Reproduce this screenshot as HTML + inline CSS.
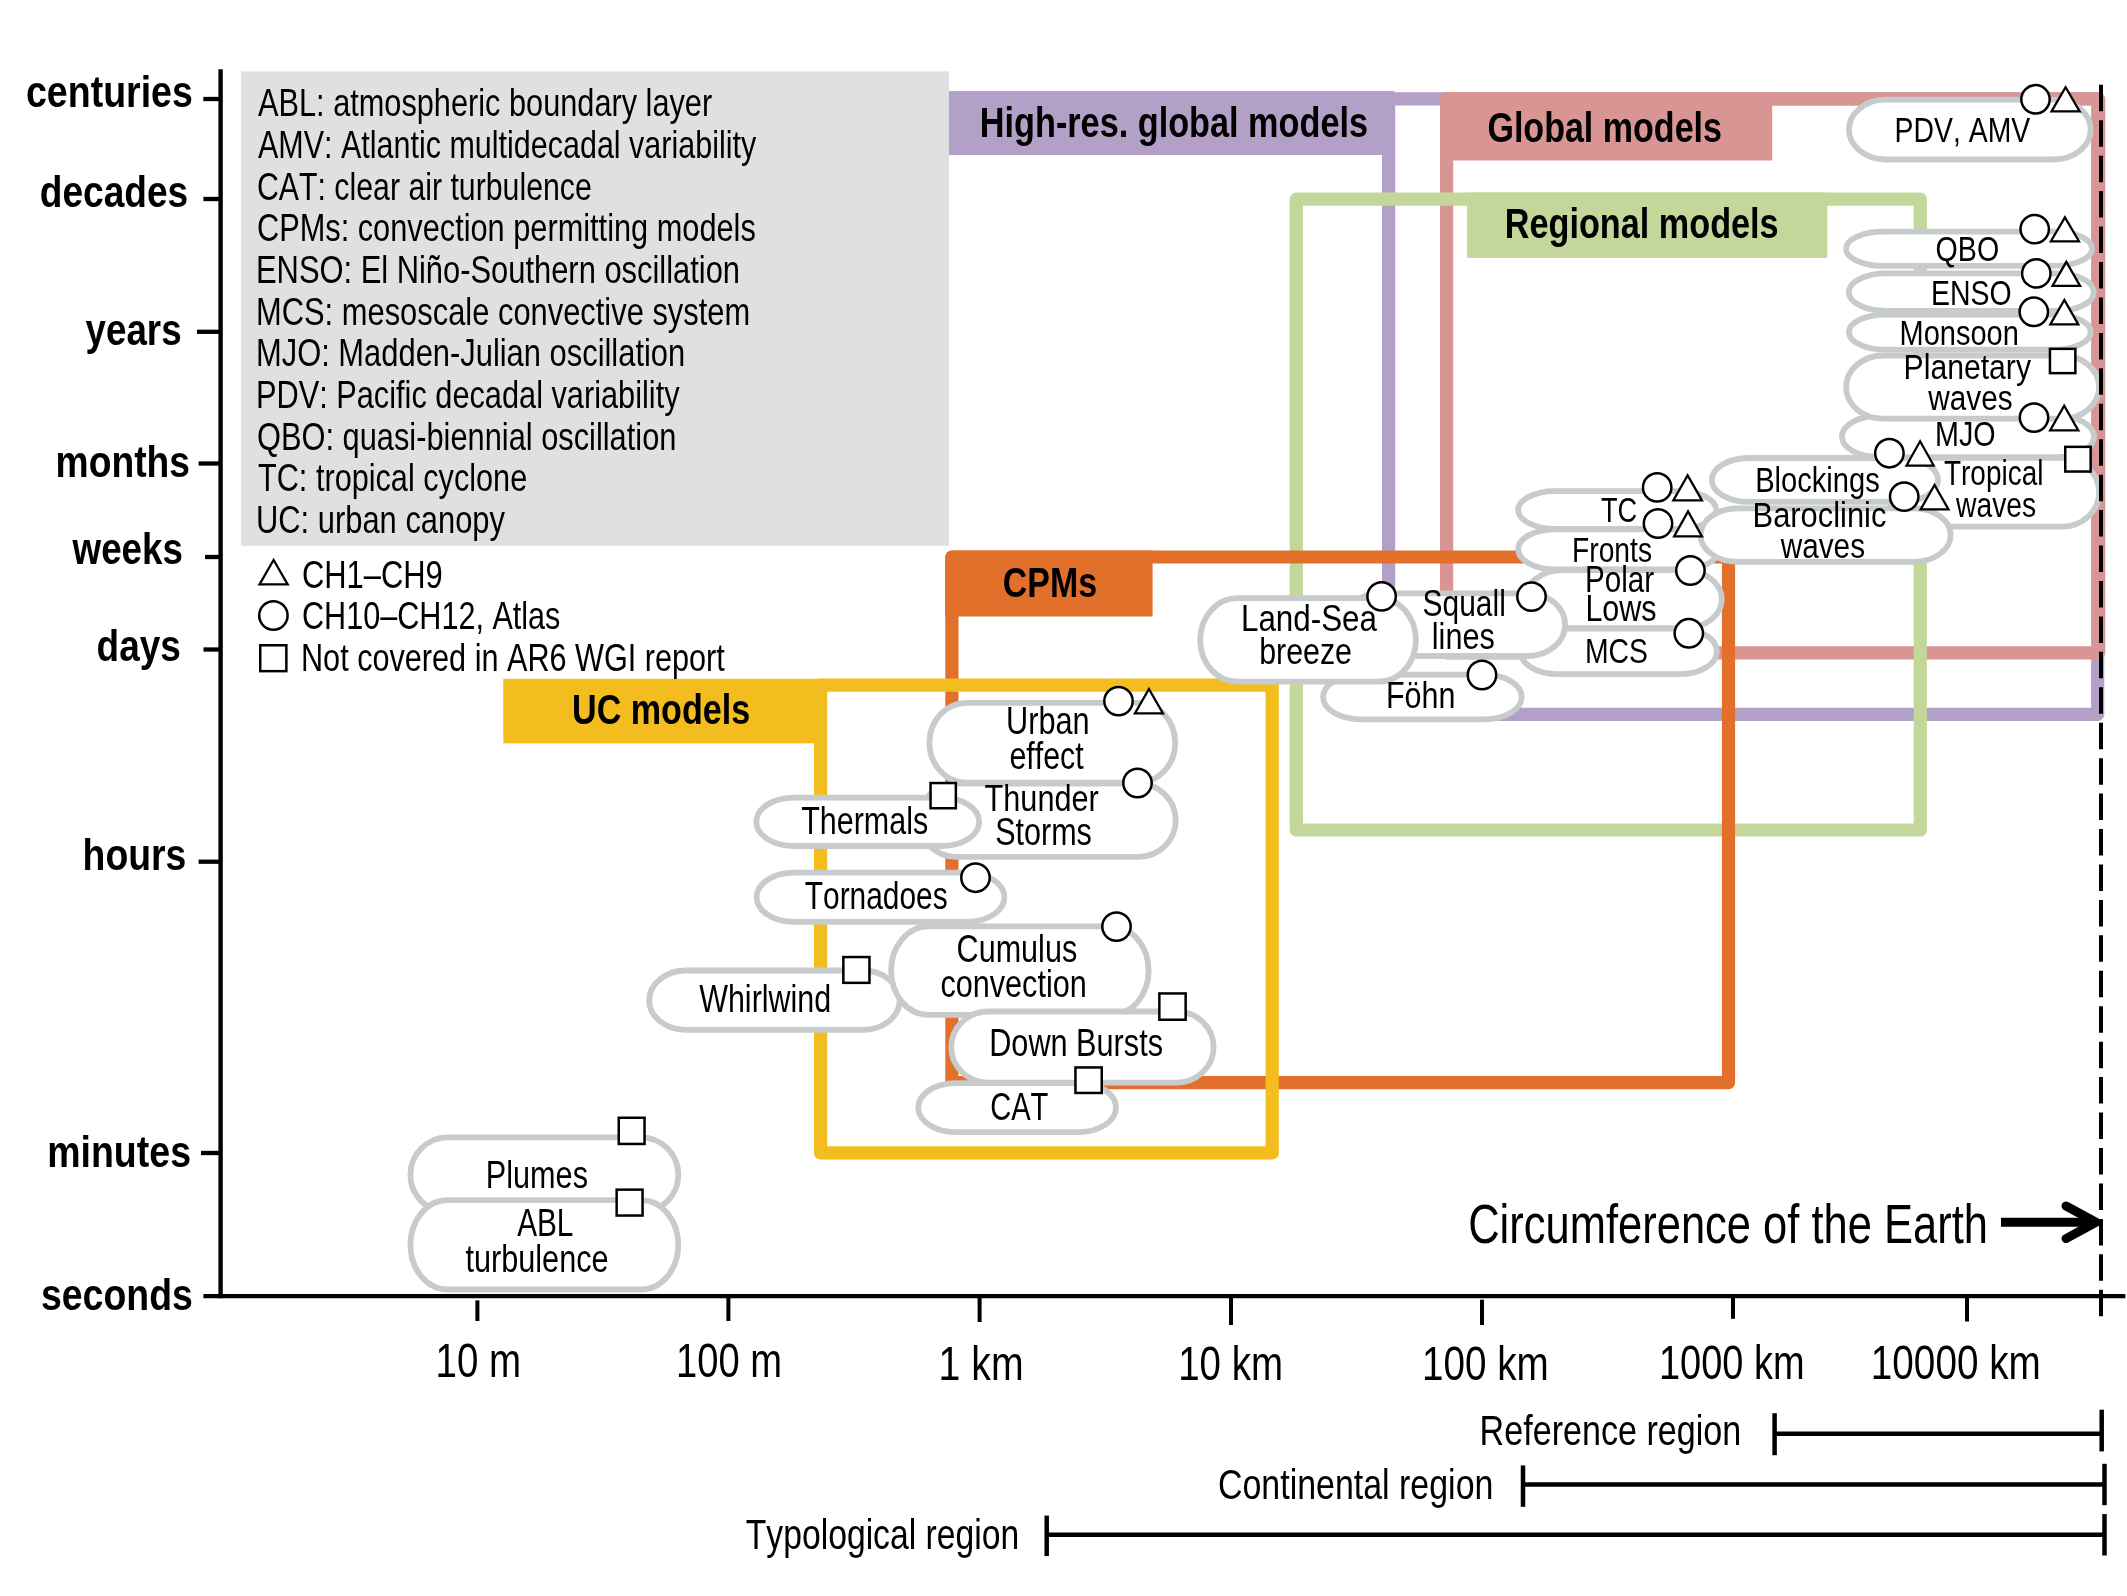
<!DOCTYPE html>
<html><head><meta charset="utf-8"><style>
html,body{margin:0;padding:0;background:#fff;}
svg{display:block;will-change:transform;}
text{font-family:"Liberation Sans",sans-serif;font-kerning:none;}
</style></head><body>
<svg width="2127" height="1596" viewBox="0 0 2127 1596">
<rect width="2127" height="1596" fill="#fff"/>
<rect x="241" y="71.4" width="708" height="474.4" fill="#dfe0e2"/>
<rect x="1388.60" y="98.90" width="709.10" height="615.50" fill="none" stroke="#b2a0c6" stroke-width="13.2" stroke-linejoin="round"/>
<rect x="949" y="91.1" width="445.40" height="63.90" fill="#b2a0c6"/>
<rect x="1446.60" y="98.90" width="652.10" height="553.90" fill="none" stroke="#d99593" stroke-width="13.2" stroke-linejoin="round"/>
<path d="M1440,98.89999999999999 A6.6,6.6 0 0 1 1446.6,92.3 L1772.2,92.3 L1772.2,160.6 L1440,160.6 Z" fill="#d99593"/>
<rect x="1296.30" y="199.20" width="624.00" height="630.80" fill="none" stroke="#c4d79b" stroke-width="13.2" stroke-linejoin="round"/>
<rect x="1467.1" y="192.6" width="360.20" height="65.30" fill="#c4d79b"/>
<rect x="951.90" y="557.00" width="776.60" height="525.70" fill="none" stroke="#e2702b" stroke-width="13.2" stroke-linejoin="round"/>
<path d="M945.3,557.0 A6.6,6.6 0 0 1 951.9,550.4 L1152.6,550.4 L1152.6,616.5 L945.3,616.5 Z" fill="#e2702b"/>
<rect x="820.60" y="685.10" width="451.60" height="467.80" fill="none" stroke="#f3bd1f" stroke-width="13.2" stroke-linejoin="round"/>
<rect x="503.3" y="678.8" width="323.70" height="64.50" fill="#f3bd1f"/>
<rect x="1848.90" y="99.70" width="241.80" height="59.80" rx="37.10" ry="29.90" fill="#fff" stroke="#c7cbcb" stroke-width="5.8"/>
<rect x="1846.10" y="231.60" width="246.00" height="34.20" rx="37.10" ry="17.10" fill="#fff" stroke="#c7cbcb" stroke-width="5.8"/>
<rect x="1848.90" y="273.40" width="244.90" height="37.50" rx="37.10" ry="18.75" fill="#fff" stroke="#c7cbcb" stroke-width="5.8"/>
<rect x="1848.90" y="314.60" width="241.80" height="35.10" rx="37.10" ry="17.55" fill="#fff" stroke="#c7cbcb" stroke-width="5.8"/>
<rect x="1841.90" y="415.90" width="252.20" height="41.20" rx="37.10" ry="20.60" fill="#fff" stroke="#c7cbcb" stroke-width="5.8"/>
<rect x="1846.10" y="355.50" width="253.00" height="63.20" rx="37.10" ry="31.60" fill="#fff" stroke="#c7cbcb" stroke-width="5.8"/>
<rect x="1887.90" y="457.90" width="211.20" height="68.70" rx="37.10" ry="34.35" fill="#fff" stroke="#c7cbcb" stroke-width="5.8"/>
<rect x="1711.80" y="458.00" width="226.30" height="43.90" rx="37.10" ry="21.95" fill="#fff" stroke="#c7cbcb" stroke-width="5.8"/>
<rect x="1518.20" y="491.10" width="198.10" height="37.70" rx="37.10" ry="18.85" fill="#fff" stroke="#c7cbcb" stroke-width="5.8"/>
<rect x="1518.20" y="529.30" width="200.90" height="40.10" rx="37.10" ry="20.05" fill="#fff" stroke="#c7cbcb" stroke-width="5.8"/>
<rect x="1700.50" y="508.40" width="250.20" height="53.40" rx="37.10" ry="26.70" fill="#fff" stroke="#c7cbcb" stroke-width="5.8"/>
<rect x="1524.90" y="570.20" width="196.90" height="58.00" rx="37.10" ry="29.00" fill="#fff" stroke="#c7cbcb" stroke-width="5.8"/>
<rect x="1520.50" y="628.70" width="196.40" height="45.40" rx="37.10" ry="22.70" fill="#fff" stroke="#c7cbcb" stroke-width="5.8"/>
<rect x="1323.10" y="674.70" width="198.60" height="44.60" rx="37.10" ry="22.30" fill="#fff" stroke="#c7cbcb" stroke-width="5.8"/>
<rect x="1342.90" y="593.40" width="222.20" height="62.60" rx="37.10" ry="31.30" fill="#fff" stroke="#c7cbcb" stroke-width="5.8"/>
<rect x="1200.20" y="598.20" width="215.70" height="83.50" rx="37.10" ry="41.75" fill="#fff" stroke="#c7cbcb" stroke-width="5.8"/>
<rect x="918.90" y="783.70" width="256.80" height="73.20" rx="37.10" ry="36.60" fill="#fff" stroke="#c7cbcb" stroke-width="5.8"/>
<rect x="929.40" y="702.90" width="245.80" height="79.70" rx="37.10" ry="39.85" fill="#fff" stroke="#c7cbcb" stroke-width="5.8"/>
<rect x="756.30" y="797.70" width="222.90" height="48.30" rx="37.10" ry="24.15" fill="#fff" stroke="#c7cbcb" stroke-width="5.8"/>
<rect x="756.60" y="872.60" width="247.80" height="49.30" rx="37.10" ry="24.65" fill="#fff" stroke="#c7cbcb" stroke-width="5.8"/>
<rect x="649.20" y="970.50" width="250.50" height="59.40" rx="37.10" ry="29.70" fill="#fff" stroke="#c7cbcb" stroke-width="5.8"/>
<rect x="891.10" y="926.40" width="257.50" height="88.40" rx="37.10" ry="44.20" fill="#fff" stroke="#c7cbcb" stroke-width="5.8"/>
<rect x="951.20" y="1011.50" width="262.40" height="71.20" rx="37.10" ry="35.60" fill="#fff" stroke="#c7cbcb" stroke-width="5.8"/>
<rect x="918.30" y="1083.10" width="197.70" height="49.00" rx="37.10" ry="24.50" fill="#fff" stroke="#c7cbcb" stroke-width="5.8"/>
<rect x="410.40" y="1137.40" width="267.90" height="74.70" rx="37.10" ry="37.35" fill="#fff" stroke="#c7cbcb" stroke-width="5.8"/>
<rect x="410.40" y="1200.20" width="267.90" height="89.30" rx="37.10" ry="44.65" fill="#fff" stroke="#c7cbcb" stroke-width="5.8"/>
<line x1="2101" y1="84.8" x2="2101" y2="1316.3" stroke="#000" stroke-width="4" stroke-dasharray="26.5 8.94"/>
<circle cx="2035.5" cy="99.3" r="14.2" fill="#fff" stroke="#000" stroke-width="2.5"/>
<circle cx="2034.7" cy="229.1" r="14.2" fill="#fff" stroke="#000" stroke-width="2.5"/>
<circle cx="2036.3" cy="273.4" r="14.2" fill="#fff" stroke="#000" stroke-width="2.5"/>
<circle cx="2033.8" cy="311.8" r="14.2" fill="#fff" stroke="#000" stroke-width="2.5"/>
<circle cx="2034" cy="417.6" r="14.2" fill="#fff" stroke="#000" stroke-width="2.5"/>
<circle cx="1889.4" cy="453.2" r="14.2" fill="#fff" stroke="#000" stroke-width="2.5"/>
<circle cx="1904.2" cy="496.6" r="14.2" fill="#fff" stroke="#000" stroke-width="2.5"/>
<circle cx="1657.2" cy="487.4" r="14.2" fill="#fff" stroke="#000" stroke-width="2.5"/>
<circle cx="1658" cy="523.5" r="14.2" fill="#fff" stroke="#000" stroke-width="2.5"/>
<circle cx="1690.4" cy="570.5" r="14.2" fill="#fff" stroke="#000" stroke-width="2.5"/>
<circle cx="1688.8" cy="633.3" r="14.2" fill="#fff" stroke="#000" stroke-width="2.5"/>
<circle cx="1531.5" cy="596.6" r="14.2" fill="#fff" stroke="#000" stroke-width="2.5"/>
<circle cx="1381.6" cy="596.4" r="14.2" fill="#fff" stroke="#000" stroke-width="2.5"/>
<circle cx="1482" cy="675" r="14.2" fill="#fff" stroke="#000" stroke-width="2.5"/>
<circle cx="1118.5" cy="701.1" r="14.2" fill="#fff" stroke="#000" stroke-width="2.5"/>
<circle cx="1137.5" cy="783" r="14.2" fill="#fff" stroke="#000" stroke-width="2.5"/>
<circle cx="975.5" cy="877.7" r="14.2" fill="#fff" stroke="#000" stroke-width="2.5"/>
<circle cx="1116.5" cy="926.6" r="14.2" fill="#fff" stroke="#000" stroke-width="2.5"/>
<circle cx="273.4" cy="615.5" r="14.2" fill="#fff" stroke="#000" stroke-width="2.5"/>
<path d="M2065.60,87.23 L2079.69,111.47 L2051.51,111.47 Z" fill="#fff" stroke="#000" stroke-width="2.25" stroke-linejoin="miter"/>
<path d="M2064.95,217.33 L2078.99,241.28 L2050.91,241.28 Z" fill="#fff" stroke="#000" stroke-width="2.25" stroke-linejoin="miter"/>
<path d="M2066.30,261.82 L2080.09,285.88 L2052.51,285.88 Z" fill="#fff" stroke="#000" stroke-width="2.25" stroke-linejoin="miter"/>
<path d="M2064.30,299.92 L2078.29,324.38 L2050.31,324.38 Z" fill="#fff" stroke="#000" stroke-width="2.25" stroke-linejoin="miter"/>
<path d="M2064.20,405.72 L2078.29,430.38 L2050.11,430.38 Z" fill="#fff" stroke="#000" stroke-width="2.25" stroke-linejoin="miter"/>
<path d="M1920.10,441.22 L1933.69,465.57 L1906.51,465.57 Z" fill="#fff" stroke="#000" stroke-width="2.25" stroke-linejoin="miter"/>
<path d="M1934.55,485.02 L1948.49,509.38 L1920.61,509.38 Z" fill="#fff" stroke="#000" stroke-width="2.25" stroke-linejoin="miter"/>
<path d="M1687.65,475.32 L1701.99,500.38 L1673.31,500.38 Z" fill="#fff" stroke="#000" stroke-width="2.25" stroke-linejoin="miter"/>
<path d="M1688.05,511.42 L1701.99,536.48 L1674.11,536.48 Z" fill="#fff" stroke="#000" stroke-width="2.25" stroke-linejoin="miter"/>
<path d="M1148.95,689.02 L1162.99,713.48 L1134.91,713.48 Z" fill="#fff" stroke="#000" stroke-width="2.25" stroke-linejoin="miter"/>
<path d="M273.60,560.02 L287.69,584.48 L259.51,584.48 Z" fill="#fff" stroke="#000" stroke-width="2.25" stroke-linejoin="miter"/>
<rect x="2049.95" y="348.85" width="25.40" height="24.30" fill="#fff" stroke="#000" stroke-width="2.5"/>
<rect x="2065.25" y="446.85" width="25.40" height="24.70" fill="#fff" stroke="#000" stroke-width="2.5"/>
<rect x="930.55" y="783.05" width="25.30" height="25.20" fill="#fff" stroke="#000" stroke-width="2.5"/>
<rect x="843.35" y="957.05" width="26.10" height="25.80" fill="#fff" stroke="#000" stroke-width="2.5"/>
<rect x="1159.35" y="993.45" width="26.30" height="26.30" fill="#fff" stroke="#000" stroke-width="2.5"/>
<rect x="1075.45" y="1067.45" width="26.30" height="25.50" fill="#fff" stroke="#000" stroke-width="2.5"/>
<rect x="618.75" y="1117.75" width="25.80" height="26.20" fill="#fff" stroke="#000" stroke-width="2.5"/>
<rect x="616.65" y="1189.65" width="25.90" height="25.90" fill="#fff" stroke="#000" stroke-width="2.5"/>
<rect x="260.25" y="645.25" width="26.10" height="25.90" fill="#fff" stroke="#000" stroke-width="2.5"/>
<g font-family="Liberation Sans" fill="#000">
<text x="26.00" y="107.20" font-size="45" font-weight="bold" textLength="166.81" lengthAdjust="spacingAndGlyphs">centuries</text>
<text x="39.80" y="206.70" font-size="45" font-weight="bold" textLength="148.42" lengthAdjust="spacingAndGlyphs">decades</text>
<text x="85.60" y="344.70" font-size="45" font-weight="bold" textLength="95.99" lengthAdjust="spacingAndGlyphs">years</text>
<text x="55.60" y="476.90" font-size="45" font-weight="bold" textLength="134.39" lengthAdjust="spacingAndGlyphs">months</text>
<text x="72.51" y="563.80" font-size="45" font-weight="bold" textLength="110.51" lengthAdjust="spacingAndGlyphs">weeks</text>
<text x="96.60" y="660.80" font-size="45" font-weight="bold" textLength="84.21" lengthAdjust="spacingAndGlyphs">days</text>
<text x="82.60" y="869.80" font-size="45" font-weight="bold" textLength="103.79" lengthAdjust="spacingAndGlyphs">hours</text>
<text x="47.20" y="1167.10" font-size="45" font-weight="bold" textLength="143.80" lengthAdjust="spacingAndGlyphs">minutes</text>
<text x="41.00" y="1310.00" font-size="45" font-weight="bold" textLength="151.81" lengthAdjust="spacingAndGlyphs">seconds</text>
<text x="258.00" y="116.20" font-size="39.5" textLength="454.19" lengthAdjust="spacingAndGlyphs">ABL: atmospheric boundary layer</text>
<text x="258.00" y="157.88" font-size="39.5" textLength="498.19" lengthAdjust="spacingAndGlyphs">AMV: Atlantic multidecadal variability</text>
<text x="257.00" y="199.56" font-size="39.5" textLength="334.80" lengthAdjust="spacingAndGlyphs">CAT: clear air turbulence</text>
<text x="257.00" y="241.24" font-size="39.5" textLength="498.79" lengthAdjust="spacingAndGlyphs">CPMs: convection permitting models</text>
<text x="256.00" y="282.92" font-size="39.5" textLength="484.00" lengthAdjust="spacingAndGlyphs">ENSO: El Niño-Southern oscillation</text>
<text x="256.00" y="324.60" font-size="39.5" textLength="494.20" lengthAdjust="spacingAndGlyphs">MCS: mesoscale convective system</text>
<text x="256.00" y="366.28" font-size="39.5" textLength="429.20" lengthAdjust="spacingAndGlyphs">MJO: Madden-Julian oscillation</text>
<text x="256.00" y="407.96" font-size="39.5" textLength="423.59" lengthAdjust="spacingAndGlyphs">PDV: Pacific decadal variability</text>
<text x="257.00" y="449.64" font-size="39.5" textLength="419.41" lengthAdjust="spacingAndGlyphs">QBO: quasi-biennial oscillation</text>
<text x="258.00" y="491.32" font-size="39.5" textLength="269.19" lengthAdjust="spacingAndGlyphs">TC: tropical cyclone</text>
<text x="256.00" y="533.00" font-size="39.5" textLength="249.00" lengthAdjust="spacingAndGlyphs">UC: urban canopy</text>
<text x="302.00" y="587.60" font-size="39.5" textLength="140.80" lengthAdjust="spacingAndGlyphs">CH1–CH9</text>
<text x="302.00" y="629.00" font-size="39.5" textLength="258.40" lengthAdjust="spacingAndGlyphs">CH10–CH12, Atlas</text>
<text x="301.00" y="671.00" font-size="39.5" textLength="423.81" lengthAdjust="spacingAndGlyphs">Not covered in AR6 WGI report</text>
<text x="979.80" y="136.50" font-size="43" font-weight="bold" textLength="388.20" lengthAdjust="spacingAndGlyphs">High-res. global models</text>
<text x="1487.40" y="141.80" font-size="43" font-weight="bold" textLength="234.60" lengthAdjust="spacingAndGlyphs">Global models</text>
<text x="1504.80" y="238.30" font-size="43" font-weight="bold" textLength="273.82" lengthAdjust="spacingAndGlyphs">Regional models</text>
<text x="1002.80" y="597.40" font-size="43" font-weight="bold" textLength="94.41" lengthAdjust="spacingAndGlyphs">CPMs</text>
<text x="572.00" y="724.10" font-size="43" font-weight="bold" textLength="178.21" lengthAdjust="spacingAndGlyphs">UC models</text>
<text x="1894.60" y="141.90" font-size="35.5" textLength="135.60" lengthAdjust="spacingAndGlyphs">PDV, AMV</text>
<text x="1935.60" y="260.90" font-size="35.5" textLength="63.59" lengthAdjust="spacingAndGlyphs">QBO</text>
<text x="1931.00" y="305.30" font-size="35.5" textLength="80.60" lengthAdjust="spacingAndGlyphs">ENSO</text>
<text x="1899.60" y="344.80" font-size="35.5" textLength="119.19" lengthAdjust="spacingAndGlyphs">Monsoon</text>
<text x="1903.60" y="378.70" font-size="35.5" textLength="127.39" lengthAdjust="spacingAndGlyphs">Planetary</text>
<text x="1928.26" y="409.70" font-size="35.5" textLength="84.35" lengthAdjust="spacingAndGlyphs">waves</text>
<text x="1935.00" y="445.60" font-size="35.5" textLength="60.60" lengthAdjust="spacingAndGlyphs">MJO</text>
<text x="1944.00" y="484.90" font-size="35.5" textLength="99.39" lengthAdjust="spacingAndGlyphs">Tropical</text>
<text x="1956.06" y="517.40" font-size="35.5" textLength="80.16" lengthAdjust="spacingAndGlyphs">waves</text>
<text x="1755.20" y="491.60" font-size="35.5" textLength="124.59" lengthAdjust="spacingAndGlyphs">Blockings</text>
<text x="1752.60" y="526.60" font-size="35.5" textLength="133.80" lengthAdjust="spacingAndGlyphs">Baroclinic</text>
<text x="1780.66" y="558.40" font-size="35.5" textLength="84.35" lengthAdjust="spacingAndGlyphs">waves</text>
<text x="1601.00" y="521.70" font-size="35.5" textLength="36.20" lengthAdjust="spacingAndGlyphs">TC</text>
<text x="1572.00" y="562.30" font-size="35.5" textLength="80.00" lengthAdjust="spacingAndGlyphs">Fronts</text>
<text x="1585.00" y="592.30" font-size="37" textLength="69.19" lengthAdjust="spacingAndGlyphs">Polar</text>
<text x="1585.40" y="620.50" font-size="37" textLength="71.21" lengthAdjust="spacingAndGlyphs">Lows</text>
<text x="1585.00" y="662.80" font-size="35.5" textLength="63.01" lengthAdjust="spacingAndGlyphs">MCS</text>
<text x="1422.60" y="615.50" font-size="37" textLength="83.19" lengthAdjust="spacingAndGlyphs">Squall</text>
<text x="1431.80" y="648.50" font-size="37" textLength="62.99" lengthAdjust="spacingAndGlyphs">lines</text>
<text x="1241.00" y="631.40" font-size="37" textLength="135.97" lengthAdjust="spacingAndGlyphs">Land-Sea</text>
<text x="1259.20" y="663.50" font-size="37" textLength="92.79" lengthAdjust="spacingAndGlyphs">breeze</text>
<text x="1386.00" y="708.40" font-size="37" textLength="69.41" lengthAdjust="spacingAndGlyphs">Föhn</text>
<text x="1006.00" y="734.00" font-size="38.3" textLength="83.59" lengthAdjust="spacingAndGlyphs">Urban</text>
<text x="1009.40" y="768.60" font-size="38.3" textLength="74.39" lengthAdjust="spacingAndGlyphs">effect</text>
<text x="984.60" y="810.50" font-size="36.5" textLength="114.19" lengthAdjust="spacingAndGlyphs">Thunder</text>
<text x="995.20" y="845.00" font-size="38.3" textLength="96.60" lengthAdjust="spacingAndGlyphs">Storms</text>
<text x="801.20" y="833.50" font-size="38.3" textLength="126.99" lengthAdjust="spacingAndGlyphs">Thermals</text>
<text x="804.80" y="908.50" font-size="38.3" textLength="142.80" lengthAdjust="spacingAndGlyphs">Tornadoes</text>
<text x="956.60" y="962.20" font-size="38.3" textLength="120.59" lengthAdjust="spacingAndGlyphs">Cumulus</text>
<text x="940.40" y="996.80" font-size="38.3" textLength="146.39" lengthAdjust="spacingAndGlyphs">convection</text>
<text x="699.20" y="1011.70" font-size="38.3" textLength="132.00" lengthAdjust="spacingAndGlyphs">Whirlwind</text>
<text x="989.20" y="1055.50" font-size="38.3" textLength="173.81" lengthAdjust="spacingAndGlyphs">Down Bursts</text>
<text x="990.20" y="1119.70" font-size="38.3" textLength="58.19" lengthAdjust="spacingAndGlyphs">CAT</text>
<text x="485.80" y="1188.00" font-size="38.3" textLength="102.18" lengthAdjust="spacingAndGlyphs">Plumes</text>
<text x="517.20" y="1236.10" font-size="38.3" textLength="56.20" lengthAdjust="spacingAndGlyphs">ABL</text>
<text x="465.40" y="1272.00" font-size="38.3" textLength="143.20" lengthAdjust="spacingAndGlyphs">turbulence</text>
<text x="435.60" y="1377.00" font-size="47.7" textLength="85.61" lengthAdjust="spacingAndGlyphs">10 m</text>
<text x="676.00" y="1377.00" font-size="47.7" textLength="106.01" lengthAdjust="spacingAndGlyphs">100 m</text>
<text x="938.60" y="1380.40" font-size="47.7" textLength="85.00" lengthAdjust="spacingAndGlyphs">1 km</text>
<text x="1178.20" y="1380.40" font-size="47.7" textLength="104.81" lengthAdjust="spacingAndGlyphs">10 km</text>
<text x="1422.00" y="1380.40" font-size="47.7" textLength="126.81" lengthAdjust="spacingAndGlyphs">100 km</text>
<text x="1659.00" y="1378.60" font-size="47.7" textLength="145.62" lengthAdjust="spacingAndGlyphs">1000 km</text>
<text x="1870.80" y="1378.60" font-size="47.7" textLength="169.99" lengthAdjust="spacingAndGlyphs">10000 km</text>
<text x="1479.60" y="1445.00" font-size="41.6" textLength="261.61" lengthAdjust="spacingAndGlyphs">Reference region</text>
<text x="1218.00" y="1498.80" font-size="41.6" textLength="275.39" lengthAdjust="spacingAndGlyphs">Continental region</text>
<text x="745.80" y="1548.70" font-size="41.6" textLength="273.39" lengthAdjust="spacingAndGlyphs">Typological region</text>
<text x="1468.20" y="1242.50" font-size="56" textLength="519.79" lengthAdjust="spacingAndGlyphs">Circumference of the Earth</text>
</g>
<line x1="220.6" y1="69.3" x2="220.6" y2="1298.2" stroke="#000" stroke-width="4.4"/>
<line x1="203.4" y1="1296.2" x2="2125.4" y2="1296.2" stroke="#000" stroke-width="4.2"/>
<line x1="203.3" y1="99" x2="221" y2="99" stroke="#000" stroke-width="4.3"/>
<line x1="203.4" y1="199" x2="221" y2="199" stroke="#000" stroke-width="4.3"/>
<line x1="197" y1="331.8" x2="221" y2="331.8" stroke="#000" stroke-width="4.3"/>
<line x1="198.6" y1="463.5" x2="221" y2="463.5" stroke="#000" stroke-width="4.3"/>
<line x1="205" y1="557" x2="221" y2="557" stroke="#000" stroke-width="4.3"/>
<line x1="203.5" y1="649.5" x2="221" y2="649.5" stroke="#000" stroke-width="4.3"/>
<line x1="198.6" y1="861.7" x2="221" y2="861.7" stroke="#000" stroke-width="4.3"/>
<line x1="201" y1="1153" x2="221" y2="1153" stroke="#000" stroke-width="4.3"/>
<line x1="477.4" y1="1300.4" x2="477.4" y2="1321" stroke="#000" stroke-width="4"/>
<line x1="728.4" y1="1294.8" x2="728.4" y2="1321" stroke="#000" stroke-width="4"/>
<line x1="979.6" y1="1294.8" x2="979.6" y2="1322" stroke="#000" stroke-width="4"/>
<line x1="1231" y1="1294.8" x2="1231" y2="1325" stroke="#000" stroke-width="4"/>
<line x1="1482" y1="1299.7" x2="1482" y2="1325" stroke="#000" stroke-width="4"/>
<line x1="1733" y1="1294.8" x2="1733" y2="1318.8" stroke="#000" stroke-width="4"/>
<line x1="1967" y1="1294.8" x2="1967" y2="1321.5" stroke="#000" stroke-width="4"/>
<line x1="1774.6" y1="1433.8" x2="2101.7" y2="1433.8" stroke="#000" stroke-width="4.5"/><line x1="1774.6" y1="1413.2" x2="1774.6" y2="1455.2" stroke="#000" stroke-width="4.5"/><line x1="2101.7" y1="1409.7" x2="2101.7" y2="1451.4" stroke="#000" stroke-width="4.5"/>
<line x1="1523" y1="1484.4" x2="2104.5" y2="1484.4" stroke="#000" stroke-width="4.5"/><line x1="1523" y1="1465.4" x2="1523" y2="1506.8" stroke="#000" stroke-width="4.5"/><line x1="2104.5" y1="1463.8" x2="2104.5" y2="1505.2" stroke="#000" stroke-width="4.5"/>
<line x1="1046.7" y1="1534.8" x2="2104.5" y2="1534.8" stroke="#000" stroke-width="4.5"/><line x1="1046.7" y1="1515.6" x2="1046.7" y2="1556.1" stroke="#000" stroke-width="4.5"/><line x1="2104.5" y1="1514.1" x2="2104.5" y2="1555.5" stroke="#000" stroke-width="4.5"/>
<line x1="2001" y1="1222.3" x2="2093" y2="1222.3" stroke="#000" stroke-width="9"/>
<polyline points="2066,1206 2096,1222.3 2066,1238.6" fill="none" stroke="#000" stroke-width="9" stroke-linecap="round" stroke-linejoin="round"/>
</svg></body></html>
